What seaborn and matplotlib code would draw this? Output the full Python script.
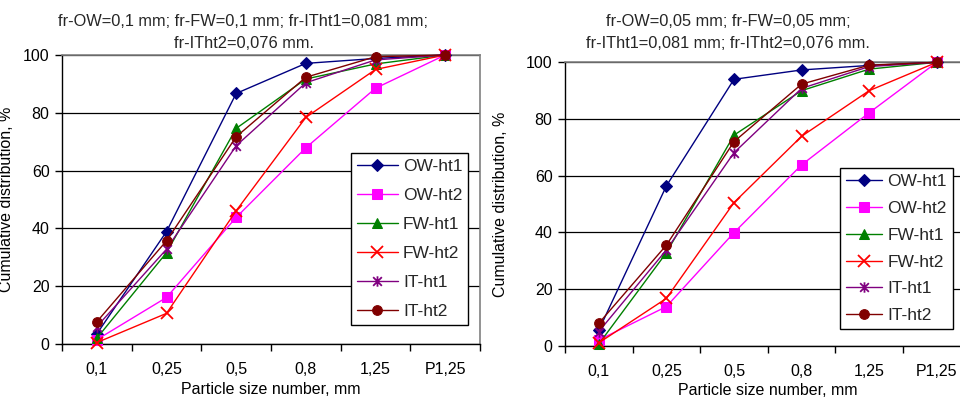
"""Cumulative particle size distribution, two fraction settings side by side."""

import matplotlib
matplotlib.use("Agg")
import matplotlib.pyplot as plt
import numpy as np
import seaborn as sns
from matplotlib.path import Path
from matplotlib.ticker import FixedLocator

sizes = ["0,1", "0,25", "0,5", "0,8", "1,25", "P1,25"]
series_names = ["OW-ht1", "OW-ht2", "FW-ht1", "FW-ht2", "IT-ht1", "IT-ht2"]

# left panel: fr-OW=0,1 mm; fr-FW=0,1 mm
left_ow_ht1 = [3.5, 38.9, 86.7, 97.1, 98.8, 100]
left_ow_ht2 = [1.5, 16.1, 43.8, 67.9, 88.5, 100]
left_fw_ht1 = [2.0, 31.6, 74.6, 91.7, 96.9, 100]
left_fw_ht2 = [0.5, 10.6, 46.1, 78.4, 95.0, 100]
left_it_ht1 = [6.0, 32.8, 68.6, 90.4, 98.3, 100]
left_it_ht2 = [7.7, 35.7, 71.7, 92.3, 99.4, 100]

# right panel: fr-OW=0,05 mm; fr-FW=0,05 mm
right_ow_ht1 = [5.5, 56.4, 94.0, 97.3, 98.9, 100]
right_ow_ht2 = [2.0, 13.8, 39.9, 63.8, 82.2, 100]
right_fw_ht1 = [0.6, 32.8, 74.3, 90.0, 97.6, 100]
right_fw_ht2 = [1.0, 16.7, 50.5, 73.9, 90.0, 100]
right_it_ht1 = [5.0, 33.8, 68.1, 90.8, 98.5, 100]
right_it_ht2 = [7.9, 35.5, 72.0, 92.3, 99.0, 100]

left_title = ["fr-OW=0,1 mm; fr-FW=0,1 mm; fr-ITht1=0,081 mm;", "fr-ITht2=0,076 mm."]
right_title = ["fr-OW=0,05 mm; fr-FW=0,05 mm;", "fr-ITht1=0,081 mm; fr-ITht2=0,076 mm."]

# Excel-like "star": an x with a vertical bar
star = Path(
    [(-1, -1), (1, 1), (-1, 1), (1, -1), (0, -1.2), (0, 1.2)],
    [Path.MOVETO, Path.LINETO, Path.MOVETO, Path.LINETO, Path.MOVETO, Path.LINETO],
)

styles = {
    "OW-ht1": dict(color="#000080", marker="D", ms=6.5),
    "OW-ht2": dict(color="#FF00FF", marker="s", ms=6.5),
    "FW-ht1": dict(color="#008000", marker="^", ms=7.5),
    "FW-ht2": dict(color="#FF0000", marker="x", ms=8),
    "IT-ht1": dict(color="#800080", marker=star, ms=7.5),
    "IT-ht2": dict(color="#800000", marker="o", ms=7),
}

sns.set_theme(style="white")
plt.rcParams["font.family"] = ["Liberation Sans", "DejaVu Sans"]

fig = plt.figure(figsize=(9.6, 3.97), dpi=100)
ax_l = fig.add_axes([62 / 960, 53 / 397, 418 / 960, 289 / 397])
ax_r = fig.add_axes([565 / 960, 51.3 / 397, 405.6 / 960, 283.4 / 397])


def draw_panel(ax, data, legend_anchor, labelspacing, handlelength, ylabel_x, xlabel_y):
    for name, vals in zip(series_names, data):
        st = styles[name]
        open_marker = st["marker"] in ("x",) or isinstance(st["marker"], Path)
        sns.lineplot(
            x=sizes, y=vals, ax=ax, sort=False, label=name,
            color=st["color"], lw=1.0, marker=st["marker"], markersize=st["ms"],
            markeredgecolor=st["color"], markerfacecolor=st["color"],
            markeredgewidth=1.3 if open_marker else 0.75,
            clip_on=False, zorder=3,
        )
    ax.set_xlim(-0.5, 5.5)
    ax.set_ylim(0, 100)
    ax.set_yticks(np.arange(0, 101, 20))
    ax.grid(axis="y", color="black", lw=0.9)
    ax.set_axisbelow(True)
    ax.xaxis.set_minor_locator(FixedLocator(np.arange(-0.5, 6, 1)))
    ax.tick_params(axis="x", which="major", length=0, pad=13, labelsize=11.5, colors="black")
    ax.tick_params(axis="x", which="minor", length=5, width=1, direction="out",
                   color="black", bottom=True)
    ax.tick_params(axis="y", length=5, width=1, direction="out", left=True,
                   pad=4, labelsize=11.5, colors="black")
    for side in ("left", "bottom"):
        ax.spines[side].set_color("black")
        ax.spines[side].set_linewidth(1)
    for side in ("top", "right"):
        ax.spines[side].set_color("#808080")
        ax.spines[side].set_linewidth(1.2)
    ax.set_ylabel("Cumulative distribution, %", fontsize=11.5, color="black")
    ax.set_xlabel("Particle size number, mm", fontsize=11.5, color="black")
    ax.yaxis.set_label_coords(ylabel_x, 0.5)
    ax.xaxis.set_label_coords(0.5, xlabel_y)
    leg = ax.legend(
        loc="upper left", bbox_to_anchor=legend_anchor, fontsize=12.5,
        frameon=True, fancybox=False, framealpha=1, edgecolor="black",
        borderpad=0.35, handlelength=handlelength, handletextpad=0.3,
        labelspacing=labelspacing, borderaxespad=0,
    )
    leg.get_frame().set_linewidth(1)
    leg.set_zorder(5)


draw_panel(ax_l, [left_ow_ht1, left_ow_ht2, left_fw_ht1, left_fw_ht2, left_it_ht1, left_it_ht2],
           (0.691, 0.661), 0.8, 2.35, -0.115, -0.132)
draw_panel(ax_r, [right_ow_ht1, right_ow_ht2, right_fw_ht1, right_fw_ht2, right_it_ht1, right_it_ht2],
           (0.677, 0.627), 0.67, 2.1, -0.141, -0.13)

fig.text(243 / 960, 1 - 21 / 397, left_title[0], ha="center", va="center", fontsize=11.8)
fig.text(244 / 960, 1 - 43 / 397, left_title[1], ha="center", va="center", fontsize=11.8)
fig.text(728 / 960, 1 - 22 / 397, right_title[0], ha="center", va="center", fontsize=11.8)
fig.text(728 / 960, 1 - 43 / 397, right_title[1], ha="center", va="center", fontsize=11.8)

fig.savefig("out.png", dpi=100, facecolor="white")
plt.close(fig)
